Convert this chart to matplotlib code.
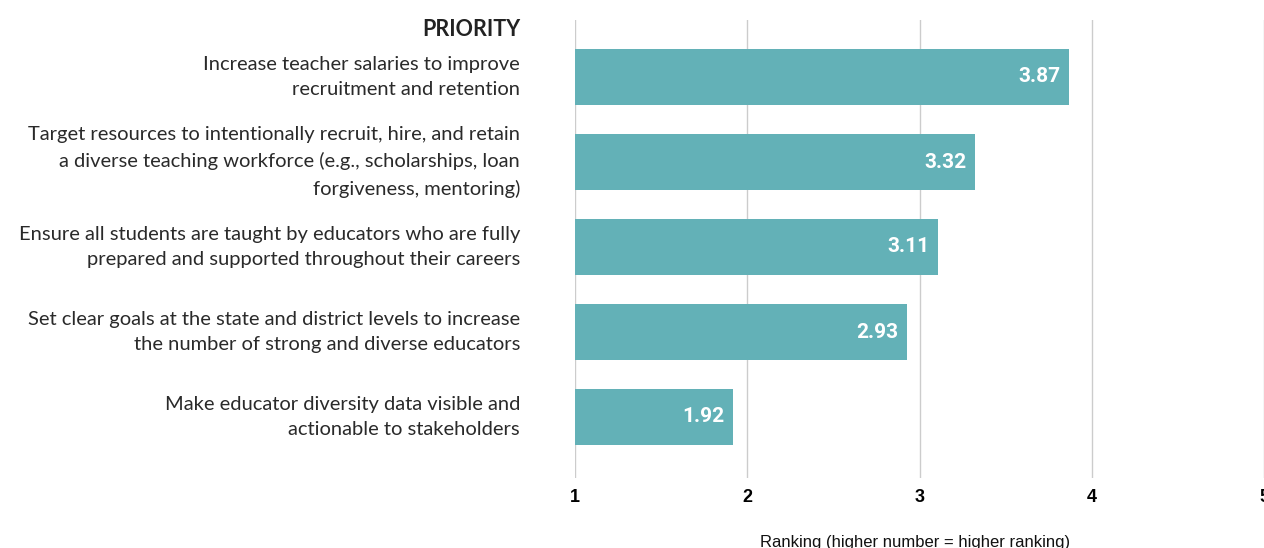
import matplotlib
matplotlib.use("Agg")
import matplotlib.pyplot as plt

priorities = [
    "Increase teacher salaries to improve\nrecruitment and retention",
    "Target resources to intentionally recruit, hire, and retain\na diverse teaching workforce (e.g., scholarships, loan\nforgiveness, mentoring)",
    "Ensure all students are taught by educators who are fully\nprepared and supported throughout their careers",
    "Set clear goals at the state and district levels to increase\nthe number of strong and diverse educators",
    "Make educator diversity data visible and\nactionable to stakeholders",
]
scores = [3.87, 3.32, 3.11, 2.93, 1.92]
ticks = [1, 2, 3, 4, 5]

BAR = "#63B1B7"
W, H = 1264, 548

fig = plt.figure(figsize=(W / 100, H / 100), dpi=100)
ax = fig.add_axes([575 / W, 1 - 478 / H, 1 - 575 / W, (478 - 20) / H])

ypos = list(range(len(priorities)))
ax.barh(ypos, [s - 1 for s in scores], left=1, height=0.65, color=BAR, zorder=3)

for y, s in zip(ypos, scores):
    ax.text(s - 0.05, y, f"{s:.2f}", ha="right", va="center", color="white",
            fontsize=15, fontweight="bold", family="Roboto", zorder=4)

# Category labels sit to the left of the plotting area, right-aligned
for y, lab in zip(ypos, priorities):
    fig.text(520 / W, 1 - (77 + 85 * y) / H, lab, ha="right", va="center",
             fontsize=14.5, family="Lato", color="#2a2a2a", linespacing=1.62)

fig.text(520 / W, 1 - 29 / H, "PRIORITY", ha="right", va="center",
         fontsize=15.5, family="Lato", fontweight="bold", color="#222222")

ax.set_xlim(1, 5)
ax.set_ylim(4 + 61 / 85, -57 / 85)
ax.set_xticks(ticks)
ax.set_xticklabels([str(t) for t in ticks], fontsize=13, fontweight="bold",
                   family="Liberation Sans")
ax.tick_params(axis="x", length=0, pad=8)
ax.set_yticks([])
ax.grid(axis="x", color="#cccccc", linewidth=1, zorder=0)
for sp in ax.spines.values():
    sp.set_visible(False)

fig.text(915 / W, 1 - 542 / H, "Ranking (higher number = higher ranking)",
         ha="center", va="center", fontsize=12, family="Liberation Sans", color="#111111")

fig.savefig("out.png", dpi=100)
